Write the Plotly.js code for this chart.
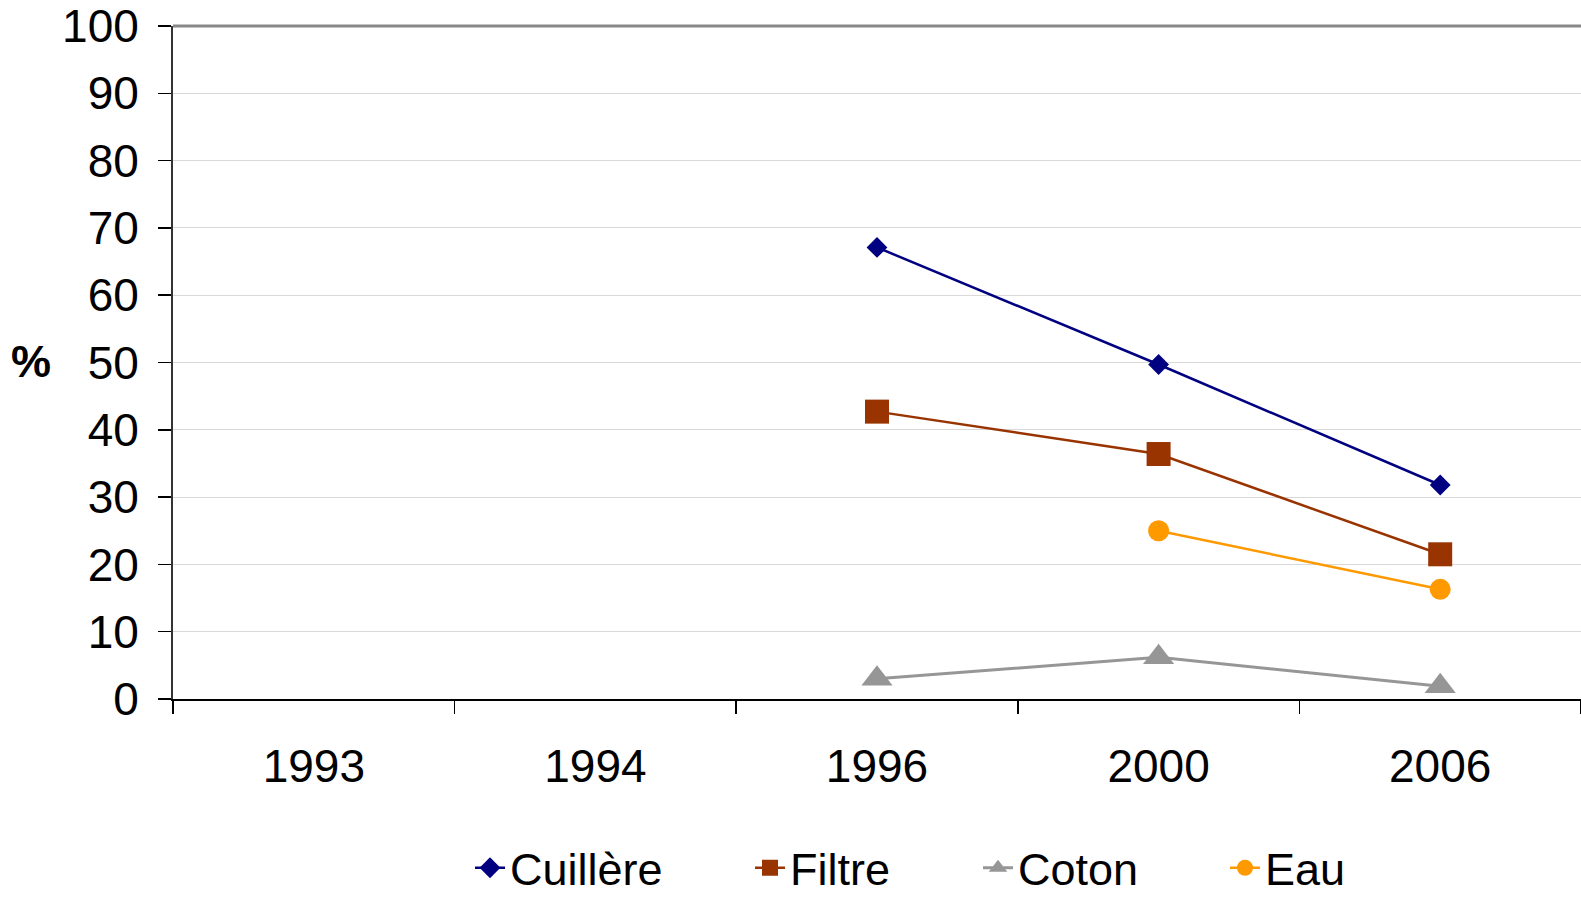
<!DOCTYPE html>
<html>
<head>
<meta charset="utf-8">
<script src="https://cdn.plot.ly/plotly-3.0.1.min.js"></script>
<style>html,body{margin:0;padding:0;overflow:hidden;background:#fff}#chart{width:1581px;height:897px}</style>
</head>
<body>
<div id="chart"></div>
<script>
const years = ["1993", "1994", "1996", "2000", "2006"];
const cuillere = [null, null, 67.1, 49.7, 31.8];
const filtre = [null, null, 42.7, 36.4, 21.5];
const coton = [null, null, 3.0, 6.2, 1.9];
const eau = [null, null, null, 25.0, 16.3];
const seriesNames = ["Cuillère", "Filtre", "Coton", "Eau"];
const yTicks = [0, 10, 20, 30, 40, 50, 60, 70, 80, 90, 100];

const FONT = "Liberation Sans, Arial, sans-serif";

const traces = [
  {x: years, y: cuillere, name: seriesNames[0], type: "scatter", mode: "lines+markers",
   line: {color: "#000080", width: 2.5}, marker: {symbol: "diamond", size: 16, color: "#000080"},
   legend: "legend"},
  {x: years, y: filtre, name: seriesNames[1], type: "scatter", mode: "lines+markers",
   line: {color: "#993300", width: 2.5}, marker: {symbol: "square", size: 24, color: "#993300"},
   legend: "legend2"},
  {x: years, y: coton, name: seriesNames[2], type: "scatter", mode: "lines+markers",
   line: {color: "#969696", width: 3}, marker: {symbol: "triangle-up", size: 27, color: "#969696"},
   legend: "legend3"},
  {x: years, y: eau, name: seriesNames[3], type: "scatter", mode: "lines+markers",
   line: {color: "#FF9900", width: 2.5}, marker: {symbol: "circle", size: 21, color: "#FF9900"},
   legend: "legend4"}
];

const W = 1581, H = 897;
const plotL = 173, plotR = 1581, plotT = 26, plotB = 699;
const pw = plotR - plotL, ph = plotB - plotT;
function px2x(p){ return (p - plotL) / pw; }
function py2y(p){ return (plotB - p) / ph; }

const legendFont = {family: FONT, size: 45, color: "#000"};
function leg(textStartPx){
  return {orientation: "h", x: px2x(textStartPx - 42), xanchor: "left",
          yref: "container", y: 1 - 868 / H, yanchor: "middle", font: legendFont,
          bgcolor: "rgba(0,0,0,0)", borderwidth: 0};
}

const layout = {
  width: W, height: H,
  margin: {l: plotL, r: W - plotR, t: plotT, b: H - plotB, pad: 0, autoexpand: false},
  paper_bgcolor: "#fff", plot_bgcolor: "#fff",
  font: {family: FONT, size: 46, color: "#000"},
  showlegend: true,
  legend: leg(512), legend2: leg(792), legend3: leg(1020), legend4: leg(1267),
  xaxis: {
    type: "category", categoryarray: years, categoryorder: "array",
    range: [-0.5, 4.5], tickson: "boundaries",
    ticks: "outside", ticklen: 13, tickwidth: 1.5, tickcolor: "#000",
    showline: true, linecolor: "#000", linewidth: 2,
    showgrid: false, zeroline: false,
    ticklabelstandoff: 26,
    tickfont: {family: FONT, size: 46, color: "#000"},
    fixedrange: true, automargin: false
  },
  yaxis: {
    range: [0, 100], tickvals: yTicks, ticktext: yTicks.map(String),
    ticks: "outside", ticklen: 13, tickwidth: 1.5, tickcolor: "#000",
    showline: true, linecolor: "#333", linewidth: 2,
    showgrid: true, gridcolor: "#d9d9d9", gridwidth: 1,
    zeroline: false,
    ticklabelstandoff: 10,
    tickfont: {family: FONT, size: 46, color: "#000"},
    fixedrange: true, automargin: false
  },
  shapes: [
    {type: "line", xref: "paper", yref: "paper", x0: 0, x1: 1, y0: 1, y1: 1,
     line: {color: "#888888", width: 3}}
  ],
  annotations: [
    {text: "<b>%</b>", xref: "paper", yref: "paper", x: px2x(31), y: py2y(361),
     xanchor: "center", yanchor: "middle", showarrow: false,
     font: {family: FONT, size: 45, color: "#000"}}
  ]
};

Plotly.newPlot("chart", traces, layout, {displayModeBar: false, staticPlot: true});
</script>
</body>
</html>
